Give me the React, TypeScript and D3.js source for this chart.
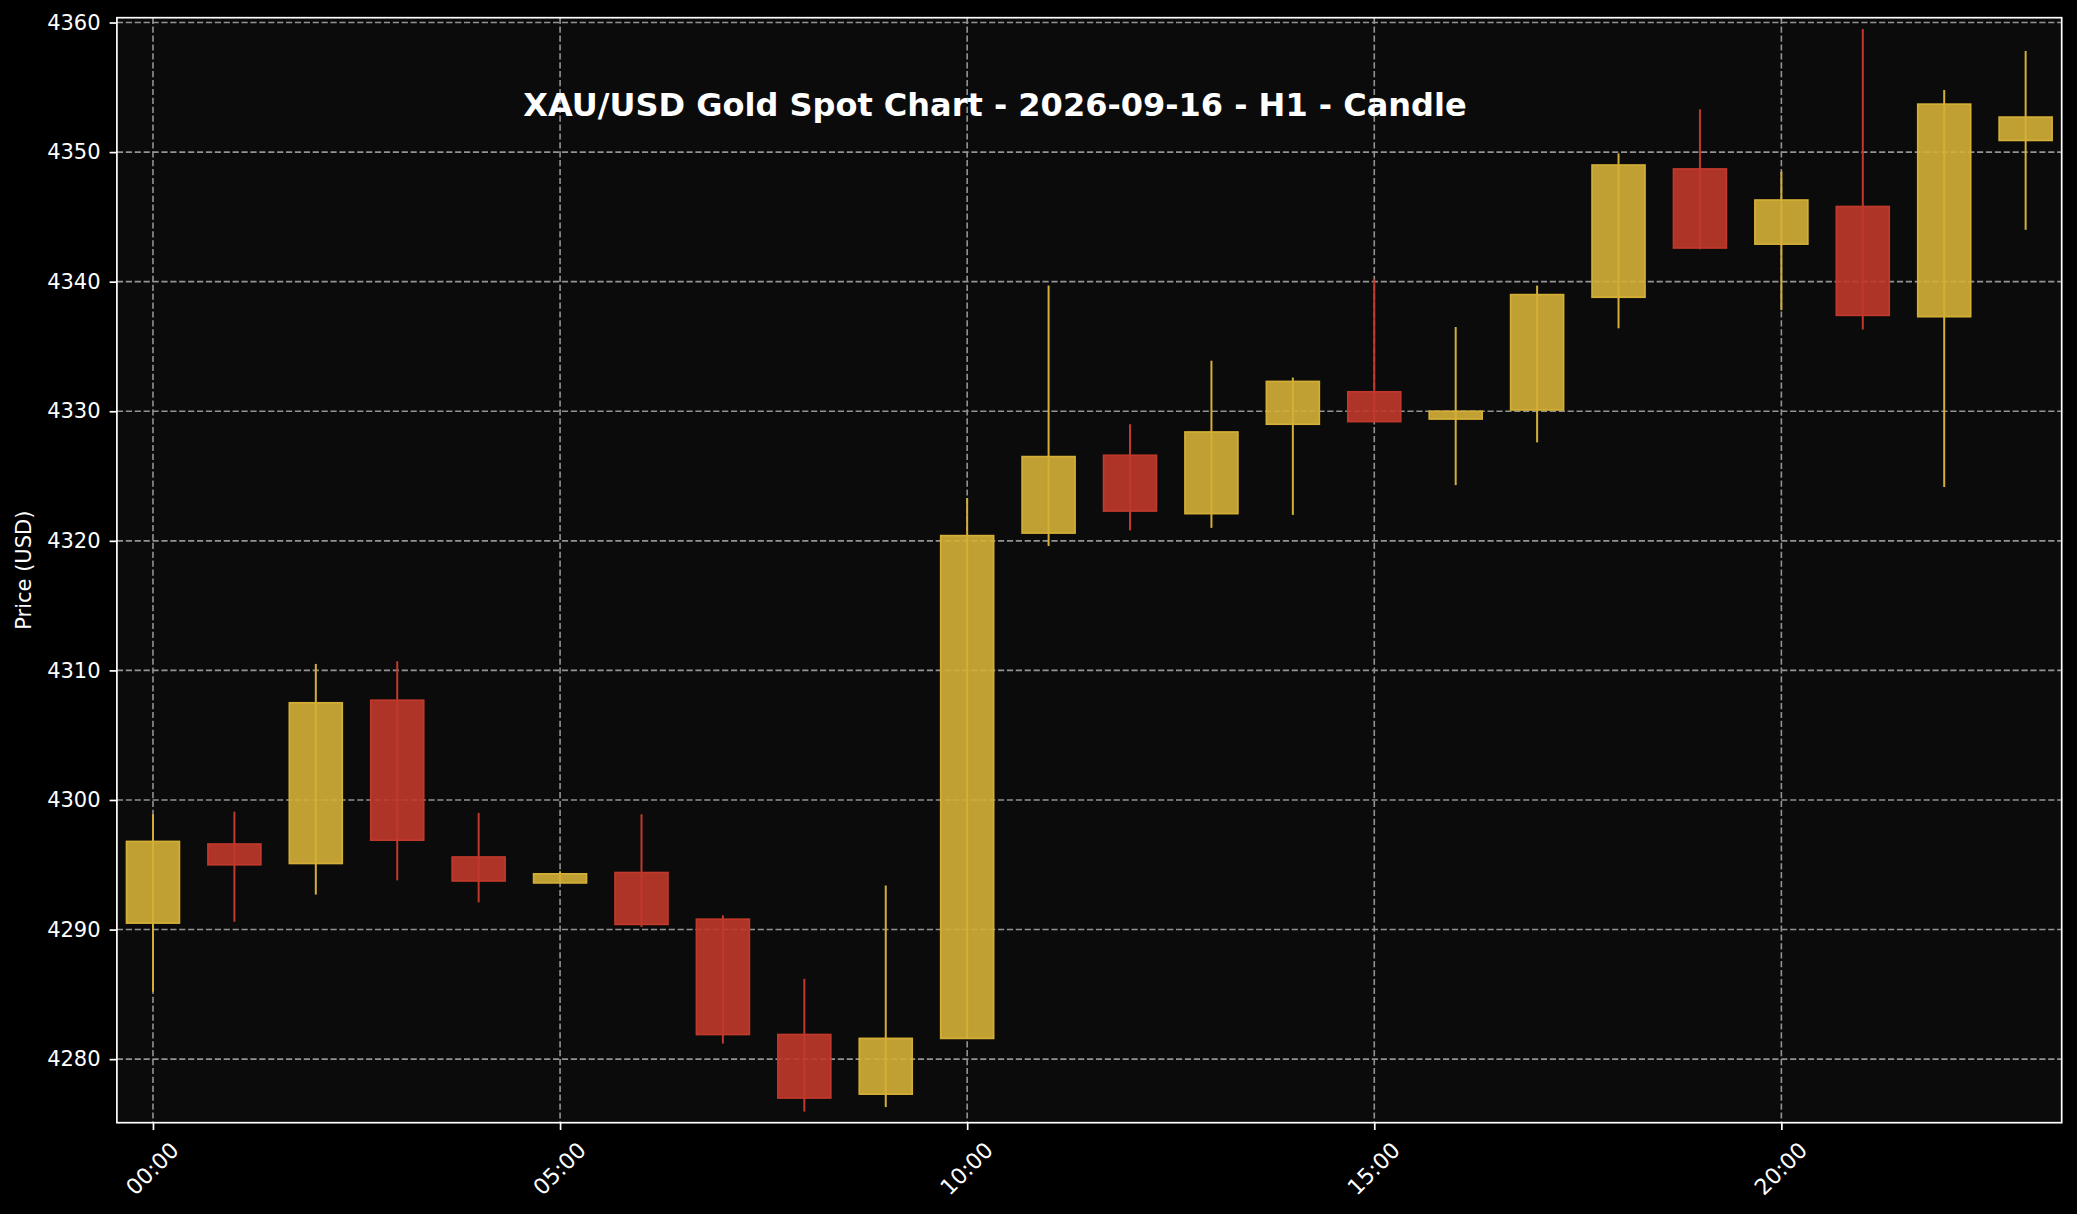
import React, { useEffect, useRef } from 'react'
import * as d3 from 'd3'

// H1 candles, 2026-09-16
const hourLabels = [
  '00:00', '01:00', '02:00', '03:00', '04:00', '05:00', '06:00', '07:00',
  '08:00', '09:00', '10:00', '11:00', '12:00', '13:00', '14:00', '15:00',
  '16:00', '17:00', '18:00', '19:00', '20:00', '21:00', '22:00', '23:00',
]
const openPrices = [
  4290.5, 4296.6, 4295.1, 4307.7, 4295.6, 4293.6, 4294.4, 4290.8,
  4281.9, 4277.3, 4281.6, 4320.6, 4326.6, 4322.1, 4329.0, 4331.5,
  4329.4, 4330.1, 4338.8, 4348.7, 4342.9, 4345.8, 4337.3, 4350.9,
]
const highPrices = [
  4298.9, 4299.1, 4310.5, 4310.7, 4299.0, 4294.5, 4298.9, 4291.1,
  4286.2, 4293.4, 4323.3, 4339.7, 4329.0, 4333.9, 4332.6, 4340.2,
  4336.5, 4339.7, 4349.9, 4353.3, 4348.5, 4359.5, 4354.8, 4357.8,
]
const lowPrices = [
  4285.2, 4290.6, 4292.7, 4293.8, 4292.1, 4293.6, 4290.2, 4281.2,
  4275.95, 4276.3, 4281.6, 4319.6, 4320.8, 4321.0, 4322.0, 4329.2,
  4324.3, 4327.6, 4336.4, 4342.5, 4337.8, 4336.3, 4324.15, 4344.0,
]
const closePrices = [
  4296.8, 4295.0, 4307.5, 4296.9, 4293.75, 4294.3, 4290.4, 4281.9,
  4277.0, 4281.6, 4320.4, 4326.5, 4322.3, 4328.4, 4332.3, 4329.2,
  4330.0, 4339.0, 4349.0, 4342.6, 4346.3, 4337.4, 4353.7, 4352.7,
]
const xTickHours = [0, 5, 10, 15, 20]
const yTicks = [4280, 4290, 4300, 4310, 4320, 4330, 4340, 4350, 4360]

const WIDTH = 2077
const HEIGHT = 1214
const margin = { top: 17.7, right: 15.3, bottom: 91.3, left: 116.9 }
const UP = '#D4AF37'
const DOWN = '#C0392B'
const FONT = '"DejaVu Sans", Verdana, sans-serif'

const App = () => {
  const ref = useRef<SVGSVGElement>(null)

  useEffect(() => {
    draw()
  }, [])

  const draw = () => {
    const root = d3.select(ref.current)
    root.selectAll('*').remove()

    const width = WIDTH - margin.left - margin.right
    const height = HEIGHT - margin.top - margin.bottom

    root.append('rect').attr('width', WIDTH).attr('height', HEIGHT).attr('fill', '#000000')

    const svg = root.append('g').attr('transform', `translate(${margin.left},${margin.top})`)

    const candles = hourLabels.map((label, i) => ({
      i,
      label,
      open: openPrices[i],
      high: highPrices[i],
      low: lowPrices[i],
      close: closePrices[i],
    }))

    const x = d3.scaleLinear().domain([-0.443, 23.443]).range([0, width])
    const y = d3
      .scaleLinear()
      .domain([(d3.min(lowPrices) as number) * 0.9998, (d3.max(highPrices) as number) * 1.0002])
      .range([height, 0])

    svg.append('rect').attr('width', width).attr('height', height).attr('fill', '#0b0b0b')

    // grid
    const grid = svg.append('g').attr('stroke', '#939393').attr('stroke-width', 1.6).attr('stroke-dasharray', '6.2,2.7')
    grid
      .selectAll('line.h')
      .data(yTicks)
      .join('line')
      .attr('class', 'h')
      .attr('x1', 0)
      .attr('x2', width)
      .attr('y1', (d) => y(d))
      .attr('y2', (d) => y(d))
    grid
      .selectAll('line.v')
      .data(xTickHours)
      .join('line')
      .attr('class', 'v')
      .attr('y1', 0)
      .attr('y2', height)
      .attr('x1', (d) => x(d))
      .attr('x2', (d) => x(d))

    const bodyW = x(0.65) - x(0)
    const color = (d: any) => (d.close >= d.open ? UP : DOWN)

    // wicks
    svg
      .append('g')
      .selectAll('line')
      .data(candles)
      .join('line')
      .attr('x1', (d) => x(d.i))
      .attr('x2', (d) => x(d.i))
      .attr('y1', (d) => y(d.high))
      .attr('y2', (d) => y(d.low))
      .attr('stroke', color)
      .attr('stroke-width', 2)

    // bodies
    svg
      .append('g')
      .selectAll('rect')
      .data(candles)
      .join('rect')
      .attr('x', (d) => x(d.i) - bodyW / 2)
      .attr('width', bodyW)
      .attr('y', (d) => y(Math.max(d.open, d.close)))
      .attr('height', (d) => Math.max(0.5, Math.abs(y(d.open) - y(d.close))))
      .attr('fill', color)
      .attr('fill-opacity', 0.9)
      .attr('stroke', color)
      .attr('stroke-width', 1.7)

    // spines
    svg
      .append('rect')
      .attr('width', width)
      .attr('height', height)
      .attr('fill', 'none')
      .attr('stroke', '#ffffff')
      .attr('stroke-width', 1.7)

    // y axis
    const yAxis = svg
      .append('g')
      .call(d3.axisLeft(y).tickValues(yTicks).tickFormat(d3.format('d')).tickSize(7.3).tickPadding(9))
    yAxis.select('.domain').remove()
    yAxis.selectAll('line').attr('stroke', '#ffffff').attr('stroke-width', 1.7)
    yAxis
      .selectAll('text')
      .attr('fill', '#ffffff')
      .attr('font-size', 21)
      .attr('font-family', FONT)

    // x axis
    const xAxis = svg
      .append('g')
      .attr('transform', `translate(0,${height})`)
      .call(d3.axisBottom(x).tickValues(xTickHours).tickFormat((d) => hourLabels[d as number]).tickSize(7.3))
    xAxis.select('.domain').remove()
    xAxis.selectAll('line').attr('stroke', '#ffffff').attr('stroke-width', 1.7)
    xAxis
      .selectAll('text')
      .attr('fill', '#ffffff')
      .attr('font-size', 22)
      .attr('font-family', FONT)
      .attr('y', 0)
      .attr('dy', 0)
      .attr('text-anchor', 'middle')
      .attr('dominant-baseline', 'central')
      .attr('transform', 'translate(-1,46) rotate(-45)')

    // y label
    root
      .append('text')
      .attr('transform', `translate(24,${margin.top + height / 2}) rotate(-90)`)
      .attr('text-anchor', 'middle')
      .attr('dominant-baseline', 'central')
      .attr('fill', '#ffffff')
      .attr('font-size', 21)
      .attr('font-family', FONT)
      .text('Price (USD)')

    // title
    root
      .append('text')
      .attr('x', 995)
      .attr('y', 115.5)
      .attr('text-anchor', 'middle')
      .attr('fill', '#ffffff')
      .attr('font-size', 32)
      .attr('font-weight', 'bold')
      .attr('font-family', FONT)
      .text('XAU/USD Gold Spot Chart - 2026-09-16 - H1 - Candle')
  }

  return (
    <svg
      ref={ref}
      width={WIDTH}
      height={HEIGHT}
      style={{ position: 'absolute', left: 0, top: 0, display: 'block' }}
    />
  )
}

export default App
